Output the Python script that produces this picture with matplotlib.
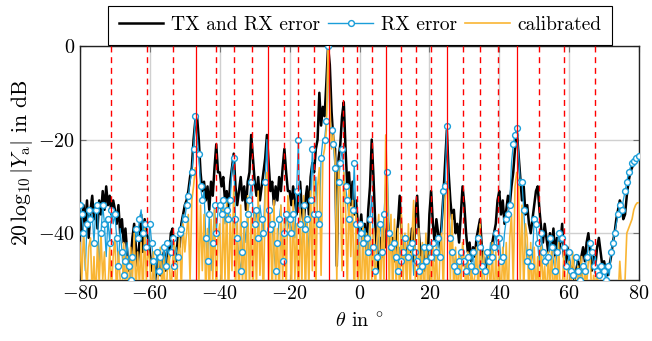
import numpy as np
import matplotlib
matplotlib.use("Agg")
import matplotlib.pyplot as plt
from matplotlib.lines import Line2D

# beam pattern |Y_a| in dB, sampled every 0.5 deg from -80 to 80
tx_rx_error = [
    -36, -40, -34, -38, -33, -41, -35, -32, -37, -34, -39, -33, -36, -31, -35, -30, -34, -32, -36, -33,
    -35, -38, -34, -40, -37, -42, -39, -44, -48, -46, -41, -38, -43, -47, -42, -36, -44, -37, -40, -41,
    -44, -48, -46, -50, -47, -45, -49, -46, -44, -48, -43, -45, -40, -39, -44, -46, -41, -43, -38, -36,
    -34, -33, -31, -28, -26, -20, -16, -15, -20, -27, -31, -29, -33, -30, -35, -29, -32, -26, -21, -27,
    -27, -30, -28, -33, -31, -35, -29, -26, -23, -30, -34, -31, -28, -33, -30, -35, -29, -27, -19, -24,
    -29, -32, -28, -33, -30, -27, -24, -19, -25, -31, -29, -34, -30, -33, -28, -31, -26, -22, -27, -31,
    -31, -34, -30, -33, -36, -32, -29, -35, -38, -33, -30, -36, -28, -25, -27, -22, -20, -10, -17, -13,
    -15, -8, 0, -4, -14, -20, -22, -47, -24, -21, -15, -12, -22, -30, -27, -34, -29, -36, -33, -38,
    -40, -36, -42, -38, -44, -35, -30, -20, -28, -38, -44, -48, -41, -45, -39, -43, -37, -40, -44, -41,
    -46, -42, -38, -32, -40, -45, -43, -47, -41, -44, -39, -46, -36, -32, -40, -45, -43, -48, -44, -46,
    -36, -31, -38, -42, -37, -40, -43, -38, -32, -25, -18, -27, -33, -37, -35, -40, -38, -42, -36, -30,
    -34, -40, -44, -42, -46, -43, -45, -41, -39, -37, -43, -46, -48, -45, -47, -44, -42, -40, -38, -33,
    -31, -36, -33, -38, -35, -32, -34, -30, -27, -22, -18, -23, -28, -33, -30, -36, -34, -38, -40, -37,
    -34, -31, -30, -35, -39, -42, -38, -41, -44, -40, -43, -39, -45, -41, -44, -42, -38, -45, -47, -43,
    -46, -49, -47, -50, -48, -46, -49, -45, -43, -46, -42, -40, -44, -48, -45, -47, -43, -41, -44, -47,
    -46, -48, -49, -47, -45, -42, -40, -37, -35, -33, -34, -37, -36, -32, -29, -27, -26, -25, -24, -23.5,
    -23.5,
]

rx_error = [
    -34, -36, -40, -48, -38, -35, -37, -36, -42, -35, -34, -48, -40, -34, -38, -45, -37, -42, -35, -38,
    -36, -41, -47, -39, -44, -49, -46, -42, -47, -50, -45, -43, -39, -41, -37, -35, -40, -38, -43, -44,
    -38, -42, -46, -50, -44, -48, -45, -49, -43, -47, -42, -46, -44, -41, -47, -43, -45, -40, -39, -36,
    -37, -34, -32, -29, -27, -22, -15, -19, -23, -30, -33, -31, -41, -46, -36, -48, -42, -34, -40, -35,
    -34, -36, -33, -38, -35, -37, -33, -26, -24, -37, -41, -45, -48, -44, -38, -42, -36, -33, -29, -35,
    -38, -35, -41, -34, -37, -40, -29, -20, -35, -39, -38, -44, -48, -42, -37, -34, -46, -40, -36, -39,
    -37, -40, -36, -41, -31, -20, -38, -46, -34, -39, -37, -45, -33, -22, -36, -28, -36, -38, -24, -20,
    -20, -16, 0, -15, -18, -21, -26, -38, -29, -25, -22, -27, -30, -33, -37, -40, -35, -25, -38, -47,
    -38, -40, -42, -39, -41, -44, -37, -32, -43, -48, -45, -41, -38, -44, -36, -29, -27, -40, -43, -46,
    -42, -45, -48, -43, -46, -44, -41, -47, -45, -43, -42, -49, -44, -46, -48, -45, -47, -43, -46, -44,
    -43, -45, -42, -46, -44, -41, -45, -39, -31, -30, -17, -32, -41, -44, -47, -45, -48, -46, -44, -47,
    -46, -48, -45, -49, -47, -44, -48, -46, -41, -43, -47, -45, -48, -44, -46, -42, -45, -43, -40, -44,
    -41, -46, -45, -40, -37, -36, -34, -25, -21, -19, -17.5, -23, -29, -29, -35, -42, -46, -44, -47, -45,
    -37, -38, -42, -47, -40, -44, -46, -47, -45, -41, -43, -46, -48, -44, -40, -42, -41, -43, -47, -48,
    -44, -48, -49, -46, -45, -48, -50, -49, -47, -48, -45, -43, -42, -44, -47, -45, -48, -49, -47, -49,
    -48, -50, -47, -49, -44, -42, -40, -38, -36, -34, -35, -33, -31, -29, -27, -26, -25, -24.5, -24, -23.5,
    -23.5,
]

calibrated = [
    -42, -50, -40, -46, -52, -43, -41, -54, -45, -55, -42, -51, -40, -50, -44, -56, -53, -43, -52, -45,
    -41, -54, -44, -50, -55, -42, -52, -45, -56, -43, -50, -40, -53, -44, -51, -42, -54, -39, -50, -43,
    -46, -55, -44, -52, -56, -47, -43, -53, -45, -56, -48, -44, -54, -46, -42, -55, -45, -41, -52, -38,
    -44, -40, -36, -50, -33, -30, -26, -29, -52, -34, -48, -36, -53, -39, -55, -37, -50, -35, -54, -41,
    -38, -54, -35, -50, -33, -55, -36, -48, -30, -53, -37, -56, -34, -51, -39, -55, -32, -52, -36, -54,
    -35, -52, -31, -49, -38, -56, -30, -27, -50, -36, -54, -33, -51, -39, -55, -34, -50, -37, -53, -32,
    -36, -53, -33, -50, -38, -56, -35, -51, -32, -54, -37, -52, -31, -48, -28, -53, -30, -26, -49, -24,
    -22, -18, 0, -12, -22, -19, -24, -50, -26, -31, -48, -27, -34, -52, -30, -45, -33, -55, -36, -52,
    -42, -55, -38, -52, -40, -56, -37, -50, -39, -54, -41, -36, -53, -38, -51, -19, -31, -52, -36, -54,
    -37, -52, -39, -55, -36, -50, -40, -54, -38, -52, -41, -33, -51, -56, -39, -53, -42, -57, -40, -52,
    -44, -55, -42, -52, -43, -56, -45, -40, -53, -33, -29, -31, -50, -36, -54, -43, -56, -44, -52, -42,
    -46, -54, -44, -56, -47, -52, -49, -43, -55, -38, -52, -44, -55, -50, -45, -53, -42, -56, -44, -52,
    -45, -55, -43, -52, -42, -56, -41, -36, -51, -30, -27, -29, -50, -34, -53, -38, -41, -54, -42, -55,
    -43, -53, -45, -56, -42, -51, -47, -55, -44, -52, -43, -56, -45, -53, -42, -55, -53, -44, -56, -49,
    -46, -52, -44, -49, -55, -47, -50, -45, -53, -48, -51, -46, -44, -55, -49, -52, -47, -55, -50, -56,
    -55, -58, -54, -57, -55, -56, -53, -57, -54, -46, -52, -57, -50, -40, -39, -38, -37, -35, -34, -33.5,
    -33.5,
]

# steering directions (deg): target beams solid, other grid directions dashed
solid_dirs = [-46.8, -26.3, -8.8, 7.7, 24.9, 45.1]
dashed_dirs = [-71.1, -60.9, -53.4, -41.1, -35.8, -30.9, -21.7, -17.5, -12.9, -4.8, -0.6,
               3.5, 11.9, 16.2, 20.4, 29.5, 34.5, 39.5, 51.4, 58.4, 67.4]

x_ticks = [-80, -60, -40, -20, 0, 20, 40, 60, 80]
y_ticks = [-40, -20, 0]
labels = ["TX and RX error", "RX error", "calibrated"]

plt.rcParams.update({
    "font.family": "serif",
    "font.serif": ["cmr10"],
    "mathtext.fontset": "cm",
    "axes.formatter.use_mathtext": True,
    "font.size": 14.5,
})

black, blue, orange = "black", "#1A9ED9", "#F9B533"

theta = np.linspace(-80, 80, len(tx_rx_error))
marks = [i for i in range(len(rx_error)) if i % 4 != 3]

fig = plt.figure(figsize=(6.52, 3.41), dpi=100)
ax = fig.add_axes([0.1227, 0.1789, 0.8574, 0.6862])

ax.plot(theta, tx_rx_error, color=black, lw=1.8, zorder=2)
ax.plot(theta, rx_error, color=blue, lw=0.9, zorder=3)
ax.plot(theta, calibrated, color=orange, lw=1.2, zorder=4)
ax.plot(theta, rx_error, ls="none", marker="o", ms=4.2, mfc="white", mec=blue, mew=1.0,
        markevery=marks, zorder=5)

tr = ax.get_xaxis_transform()
for d in solid_dirs:
    ax.plot([d, d], [1, 0], transform=tr, color="red", lw=0.9, zorder=6)
for d in dashed_dirs:
    ax.plot([d, d], [1, 0], transform=tr, color="red", lw=1.0, dashes=(4.3, 3.4), zorder=6)

ax.set_xlim(-80, 80)
ax.set_ylim(-50, 0)
ax.set_xticks(x_ticks)
ax.set_yticks(y_ticks)
ax.grid(True, color="#d0d0d0", lw=1.0)
ax.set_axisbelow(True)
ax.tick_params(direction="in", length=4, width=0.8, color="0.45", top=True, right=True)
for s in ax.spines.values():
    s.set_linewidth(1.0)
    s.set_color("#222222")

ax.set_xlabel(r"$\theta$ in $^{\circ}$", labelpad=6)
ax.set_ylabel(r"$20\,\log_{10}|Y_{\mathrm{a}}|$ in dB", labelpad=2, fontsize=15.5)

handles = [
    Line2D([], [], color=black, lw=1.8),
    Line2D([], [], color=blue, lw=1.0, marker="o", ms=4.2, mfc="white", mec=blue, mew=1.0),
    Line2D([], [], color=orange, lw=1.2),
]
leg = fig.legend(handles, labels, ncol=3, mode="expand", fontsize=14,
                 loc="lower left", bbox_to_anchor=(108 / 652, 296 / 341, 504 / 652, 40 / 341),
                 borderaxespad=0.0, frameon=True, fancybox=False, framealpha=1, edgecolor="black",
                 handlelength=2.3, handletextpad=0.4, columnspacing=0.4, borderpad=0.55)
leg.get_frame().set_linewidth(0.8)
leg.set_zorder(10)

fig.savefig("out.png", dpi=100)
